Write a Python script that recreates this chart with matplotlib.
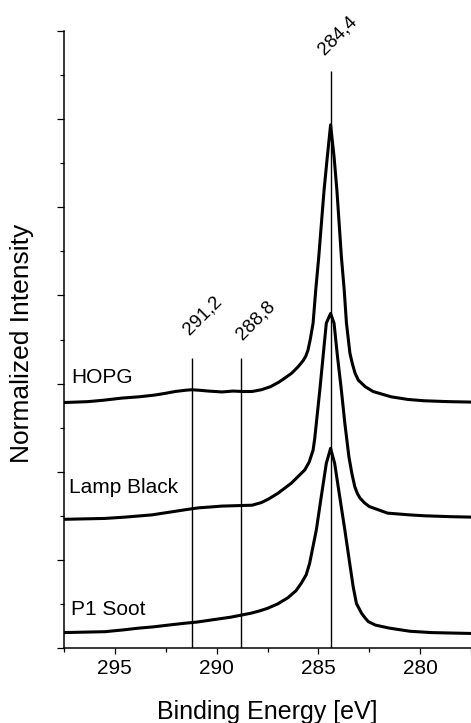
import matplotlib
matplotlib.use("Agg")
import matplotlib.pyplot as plt
from matplotlib.ticker import MultipleLocator, NullFormatter
import numpy as np

plt.rcParams['font.family'] = ['Liberation Sans', 'DejaVu Sans']

# C1s spectra, binding energy [eV] vs normalized intensity (stacked)
hopg_e = [297.50, 296.90, 296.33, 295.60, 294.67, 293.80, 293.03, 292.50, 292.04,
          291.50, 291.22, 290.89, 290.40, 289.74, 289.20, 288.70, 288.26, 287.80,
          287.35, 286.95, 286.60, 286.30, 286.00, 285.75, 285.62, 285.51, 285.40,
          285.26, 285.13, 284.98, 284.85, 284.72, 284.56, 284.40, 284.23, 284.09,
          283.98, 283.87, 283.73, 283.62, 283.45, 283.33, 283.20, 283.04, 282.70,
          282.31, 281.43, 280.60, 279.81, 278.60, 277.49]
hopg_i = [5.57, 5.58, 5.59, 5.62, 5.67, 5.70, 5.74, 5.78, 5.82,
          5.85, 5.86, 5.85, 5.83, 5.81, 5.83, 5.82, 5.82, 5.86,
          5.93, 6.03, 6.14, 6.24, 6.38, 6.52, 6.62, 6.76, 7.00,
          7.37, 8.12, 8.88, 9.64, 10.39, 11.15, 11.87, 11.15, 10.39,
          9.64, 8.88, 8.12, 7.37, 6.69, 6.45, 6.24, 6.08, 5.93,
          5.82, 5.70, 5.64, 5.61, 5.59, 5.58]

lamp_e = [297.50, 296.50, 295.49, 294.50, 293.19, 292.20, 291.50, 290.89, 290.30,
          289.74, 289.00, 288.26, 287.80, 287.45, 286.99, 286.33, 285.67, 285.45,
          285.26, 285.18, 285.10, 284.93, 284.77, 284.61, 284.40, 284.23, 284.06,
          283.87, 283.70, 283.50, 283.35, 283.21, 283.08, 282.95, 282.75, 282.50,
          281.60, 280.50, 279.79, 278.50, 277.49]
lamp_i = [2.92, 2.93, 2.94, 2.97, 3.02, 3.09, 3.14, 3.18, 3.20,
          3.22, 3.23, 3.24, 3.30, 3.38, 3.51, 3.74, 4.04, 4.22,
          4.49, 4.75, 5.10, 5.85, 6.61, 7.37, 7.59, 7.37, 6.61,
          5.85, 5.10, 4.34, 3.95, 3.66, 3.50, 3.40, 3.30, 3.21,
          3.06, 3.02, 3.00, 2.98, 2.97]

soot_e = [297.50, 296.50, 295.49, 294.60, 293.85, 293.10, 292.37, 291.60, 290.94,
          290.20, 289.30, 288.31, 287.90, 287.50, 287.00, 286.50, 286.10, 285.84,
          285.60, 285.43, 285.10, 284.86, 284.61, 284.40, 284.20, 283.95, 283.70,
          283.46, 283.29, 283.13, 282.88, 282.70, 282.55, 282.20, 281.50, 280.50,
          279.46, 278.50, 277.49]
soot_i = [0.35, 0.36, 0.37, 0.41, 0.45, 0.48, 0.52, 0.56, 0.59,
          0.64, 0.70, 0.79, 0.84, 0.90, 1.00, 1.14, 1.30, 1.47,
          1.66, 1.92, 2.68, 3.43, 4.19, 4.53, 4.19, 3.43, 2.68,
          1.92, 1.39, 1.01, 0.79, 0.68, 0.60, 0.52, 0.45, 0.38,
          0.35, 0.34, 0.33]

sample_names = ['HOPG', 'Lamp Black', 'P1 Soot']
name_pos = [(297.14, 6.01), (297.27, 3.52), (297.14, 0.75)]

# marker lines for the peak positions
peak_e = [291.2, 288.8, 284.4]
peak_top = [6.58, 6.58, 13.1]
peak_txt = ['291,2', '288,8', '284,4']
txt_offset = [(7.7, 14.5), (10.3, 11.0), (5.4, 8.8)]

fig = plt.figure(figsize=(4.71, 7.23), dpi=100)
ax = fig.add_axes([64 / 471, 75 / 723, 407 / 471, 617 / 723])

for e, i in [(hopg_e, hopg_i), (lamp_e, lamp_i), (soot_e, soot_i)]:
    ax.plot(e, i, color='black', lw=2.2, solid_joinstyle='round')

ax.vlines(peak_e, 0, peak_top, color='black', lw=1.0)
for e, top, t, off in zip(peak_e, peak_top, peak_txt, txt_offset):
    ax.annotate(t, xy=(e, top), xytext=off, textcoords='offset points',
                rotation=45, ha='center', va='bottom', fontsize=13.5)

for name, (x, y) in zip(sample_names, name_pos):
    ax.text(x, y, name, ha='left', va='baseline', fontsize=15)

ax.set_xlim(297.5, 277.5)
ax.set_ylim(0, 14)
ax.xaxis.set_major_locator(MultipleLocator(5))
ax.xaxis.set_minor_locator(MultipleLocator(2.5))
ax.yaxis.set_major_locator(MultipleLocator(2))
ax.yaxis.set_minor_locator(MultipleLocator(1))
ax.yaxis.set_major_formatter(NullFormatter())

for s in ['top', 'right']:
    ax.spines[s].set_visible(False)
for s in ['left', 'bottom']:
    ax.spines[s].set_linewidth(1.1)

ax.tick_params(axis='x', which='major', length=4, width=0.9, labelsize=15, pad=4)
ax.tick_params(axis='x', which='minor', length=3, width=0.9)
ax.tick_params(axis='y', which='major', length=5, width=0.9)
ax.tick_params(axis='y', which='minor', length=3, width=0.9)

fig.text(267.5 / 471, 1 - 719 / 723, 'Binding Energy [eV]', ha='center',
         va='baseline', fontsize=18)
fig.text(22 / 471, 1 - 343 / 723, 'Normalized Intensity', ha='center',
         va='center', rotation=90, fontsize=19)

fig.savefig('out.png', dpi=100)
